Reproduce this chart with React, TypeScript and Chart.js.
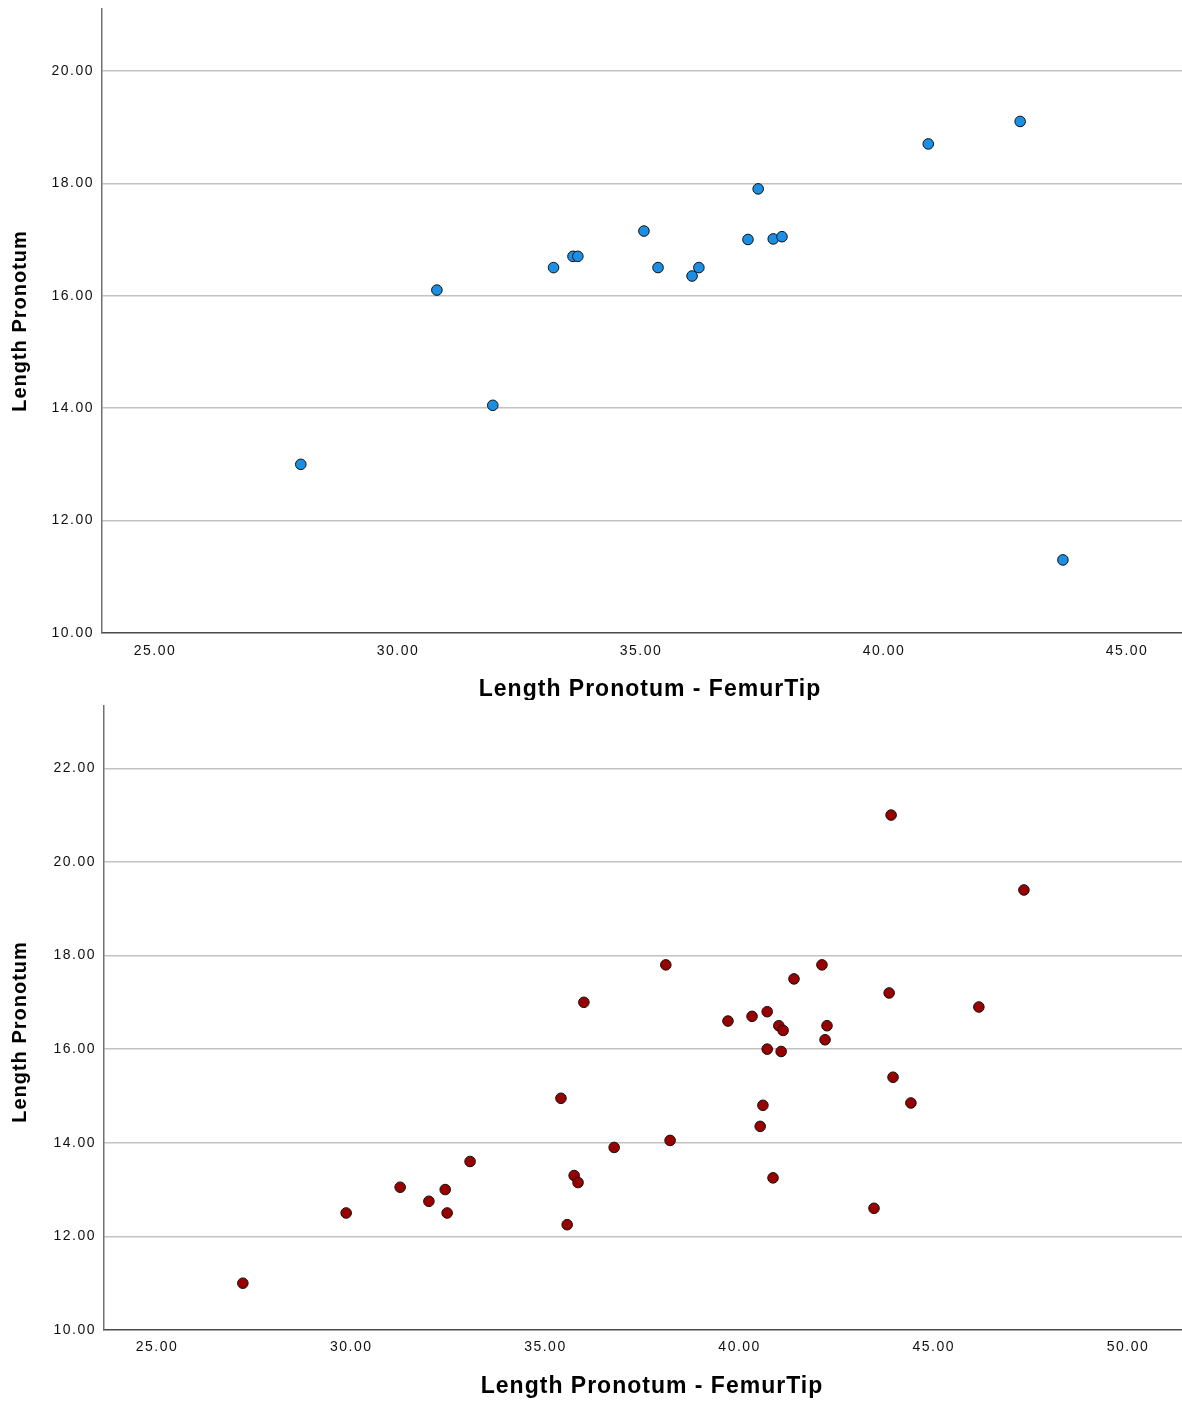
import React, { useEffect, useRef } from "react";
import { Chart, registerables } from "chart.js";

Chart.register(...registerables);

// ---------- data ----------
const TOP_X = [28.0, 30.8, 31.95, 33.2, 33.6, 33.7, 35.06, 35.35, 36.05, 36.19, 37.2, 37.41, 37.72, 37.9, 40.91, 42.8, 43.68];
const TOP_Y = [13.0, 16.1, 14.05, 16.5, 16.7, 16.7, 17.15, 16.5, 16.35, 16.5, 17.0, 17.9, 17.01, 17.05, 18.7, 19.1, 11.3];

const BOTTOM_X = [
  27.21, 29.87, 31.26, 32.0, 32.42, 32.47, 33.06, 35.4, 35.56, 35.74, 35.84, 35.99, 36.77, 38.1, 38.21,
  39.7, 40.32, 40.53, 40.6, 40.71, 40.71, 40.86, 41.01, 41.07, 41.12, 41.4, 42.12, 42.2, 42.25, 43.46,
  43.85, 43.9, 43.95, 44.41, 46.16, 47.32,
];
const BOTTOM_Y = [
  11.0, 12.5, 13.05, 12.75, 13.0, 12.5, 13.6, 14.95, 12.25, 13.3, 13.15, 17.0, 13.9, 17.8, 14.05,
  16.6, 16.7, 14.35, 14.8, 16.8, 16.0, 13.25, 16.5, 15.95, 16.4, 17.5, 17.8, 16.2, 16.5, 12.6,
  17.2, 21.0, 15.4, 14.85, 16.9, 19.4,
];

const TOP_X_TICKS = [25, 30, 35, 40, 45];
const TOP_Y_TICKS = [10, 12, 14, 16, 18, 20];
const BOTTOM_X_TICKS = [25, 30, 35, 40, 45, 50];
const BOTTOM_Y_TICKS = [10, 12, 14, 16, 18, 20, 22];

const X_TITLE = "Length Pronotum - FemurTip";
const Y_TITLE = "Length Pronotum";

const FONT = '"Liberation Sans", Arial, Helvetica, sans-serif';

const titlesPlugin = {
  id: "axisTitles",
  beforeDraw(chart: any) {
    (chart.ctx as any).letterSpacing = "1.5px";
  },
  afterDraw(chart: any, _args: any, opts: any) {
    const ctx = chart.ctx as any;
    ctx.save();
    ctx.fillStyle = "#000";
    ctx.textAlign = "center";
    ctx.textBaseline = "middle";
    ctx.letterSpacing = "1px";
    ctx.font = `bold 23px ${FONT}`;
    ctx.fillText(opts.xText, opts.xTitleX, opts.xTitleY);
    ctx.translate(opts.yTitleX, opts.yTitleY);
    ctx.rotate(-Math.PI / 2);
    ctx.font = `bold 20px ${FONT}`;
    ctx.fillText(opts.yText, 0, 0);
    ctx.restore();
  },
};

type P = {
  xs: number[];
  ys: number[];
  color: string;
  xMin: number;
  xMax: number;
  yMin: number;
  yMax: number;
  xTicks: number[];
  yTicks: number[];
  padTop: number;
  yAxisW: number;
  xAxisH: number;
  xTickPad: number;
  xTitleX: number;
  xTitleY: number;
  yTitleX: number;
  yTitleY: number;
};

function makeConfig(p: P): any {
  return {
    type: "scatter",
    data: {
      datasets: [
        {
          data: p.xs.map((x, i) => ({ x, y: p.ys[i] })),
          backgroundColor: p.color,
          borderColor: "#111",
          borderWidth: 1,
          pointRadius: 5.3,
          pointHoverRadius: 5.3,
        },
      ],
    },
    options: {
      responsive: false,
      animation: false,
      devicePixelRatio: 1,
      events: [],
      layout: { autoPadding: false, padding: { top: p.padTop, left: 0, right: 0, bottom: 0 } },
      plugins: {
        legend: { display: false },
        tooltip: { enabled: false },
        axisTitles: {
          xText: X_TITLE,
          yText: Y_TITLE,
          xTitleX: p.xTitleX,
          xTitleY: p.xTitleY,
          yTitleX: p.yTitleX,
          yTitleY: p.yTitleY,
        },
      },
      scales: {
        x: {
          type: "linear",
          min: p.xMin,
          max: p.xMax,
          afterFit(s: any) {
            s.height = p.xAxisH;
            s.paddingLeft = 0;
            s.paddingRight = 0;
          },
          afterBuildTicks(s: any) {
            s.ticks = p.xTicks.map((v) => ({ value: v }));
          },
          grid: { display: false, drawTicks: false },
          border: { display: true, color: "#4a4a4a", width: 1.5 },
          ticks: {
            padding: p.xTickPad,
            color: "#111",
            font: { family: FONT, size: 14 },
            maxRotation: 0,
            autoSkip: false,
            callback: (v: any) => Number(v).toFixed(2),
          },
        },
        y: {
          type: "linear",
          min: p.yMin,
          max: p.yMax,
          afterFit(s: any) {
            s.width = p.yAxisW;
            s.paddingTop = 0;
            s.paddingBottom = 0;
          },
          afterBuildTicks(s: any) {
            s.ticks = p.yTicks.map((v) => ({ value: v }));
          },
          grid: {
            drawTicks: false,
            lineWidth: 1.5,
            color: (c: any) => (c.tick && c.tick.value === p.yMin ? "rgba(0,0,0,0)" : "#c2c2c2"),
          },
          border: { display: true, color: "#707070", width: 1.5 },
          ticks: {
            padding: 8,
            color: "#111",
            font: { family: FONT, size: 14 },
            autoSkip: false,
            callback: (v: any) => Number(v).toFixed(2),
          },
        },
      },
    },
    plugins: [titlesPlugin],
  };
}

function ScatterCanvas({ p, height }: { p: P; height: number }) {
  const ref = useRef<HTMLCanvasElement | null>(null);
  useEffect(() => {
    if (!ref.current) return;
    const chart = new Chart(ref.current, makeConfig(p));
    return () => chart.destroy();
  }, []);
  return <canvas ref={ref} width={1182} height={height} style={{ display: "block", width: 1182, height }} />;
}

const TOP: P = {
  xs: TOP_X,
  ys: TOP_Y,
  color: "#1a8fe3",
  xMin: 23.91,
  xMax: 46.13,
  yMin: 10,
  yMax: 21.1,
  xTicks: TOP_X_TICKS,
  yTicks: TOP_Y_TICKS,
  padTop: 9,
  yAxisW: 102,
  xAxisH: 67,
  xTickPad: 10,
  xTitleX: 650,
  xTitleY: 690,
  yTitleX: 20,
  yTitleY: 321,
};

const BOTTOM: P = {
  xs: BOTTOM_X,
  ys: BOTTOM_Y,
  color: "#990000",
  xMin: 23.635,
  xMax: 51.39,
  yMin: 10,
  yMax: 23.33,
  xTicks: BOTTOM_X_TICKS,
  yTicks: BOTTOM_Y_TICKS,
  padTop: 6,
  yAxisW: 104,
  xAxisH: 73,
  xTickPad: 9,
  xTitleX: 652,
  xTitleY: 687,
  yTitleX: 20,
  yTitleY: 332,
};

export default function App() {
  return (
    <div style={{ position: "absolute", left: 0, top: 0, width: 1182, height: 1403, background: "#fff" }}>
      <ScatterCanvas p={TOP} height={700} />
      <ScatterCanvas p={BOTTOM} height={703} />
    </div>
  );
}
